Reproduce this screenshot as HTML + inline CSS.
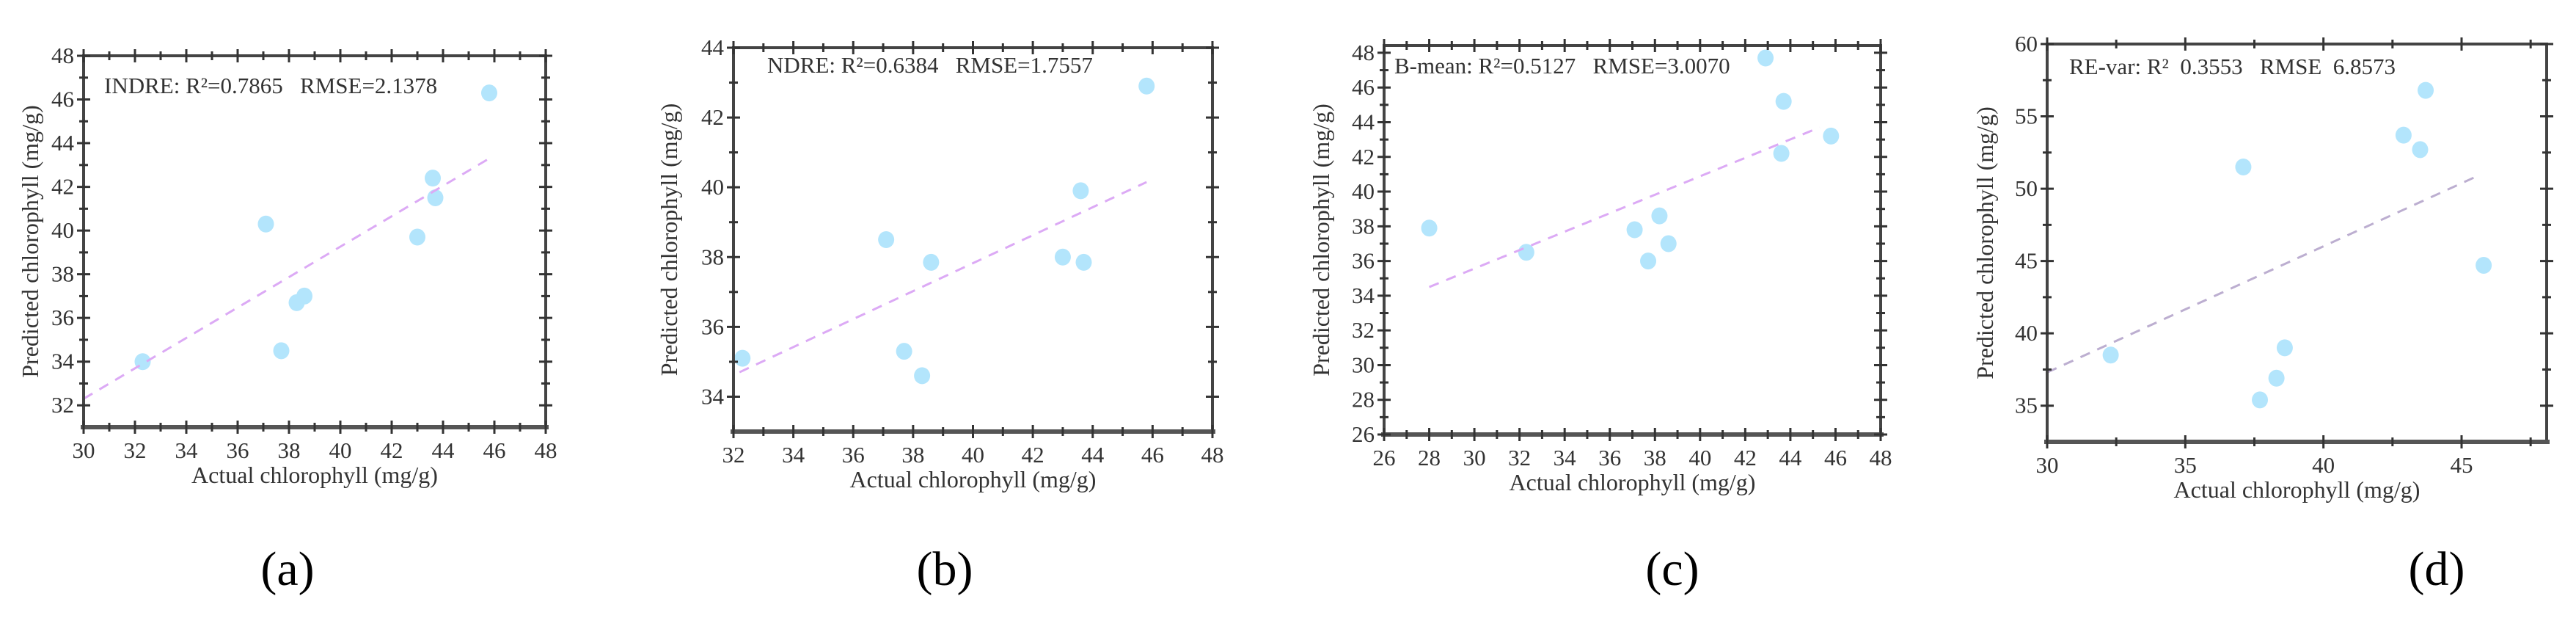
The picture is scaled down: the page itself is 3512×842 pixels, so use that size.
<!DOCTYPE html>
<html><head><meta charset="utf-8"><style>
html,body{margin:0;padding:0;background:#fff;}
svg text{font-family:"Liberation Serif",serif;fill:#333;white-space:pre;}
</style></head><body>
<svg id="fig" width="3512" height="837" viewBox="0 0 3512 837" xmlns="http://www.w3.org/2000/svg"></svg>
<script>
const aX=[32.3,37.1,37.7,38.3,38.6,43.0,43.6,43.7,45.8];
const aY=[34.0,40.3,34.5,36.7,37.0,39.7,42.4,41.5,46.3];
const aFit=[[30,32.3],[45.8,43.3]];
const bX=[32.3,37.1,37.7,38.3,38.6,43.0,43.6,43.7,45.8];
const bY=[35.1,38.5,35.3,34.6,37.85,38.0,39.9,37.85,42.9];
const bFit=[[32.2,34.7],[45.8,40.15]];
const cX=[28.0,32.3,37.1,37.7,38.2,38.6,42.9,43.6,43.7,45.8];
const cY=[37.9,36.5,37.8,36.0,38.6,37.0,47.7,42.2,45.2,43.2];
const cFit=[[28,34.5],[45.3,43.7]];
const dX=[32.3,37.1,37.7,38.3,38.6,42.9,43.5,43.7,45.8];
const dY=[38.5,51.5,35.4,36.9,39.0,53.7,52.7,56.8,44.7];
const dFit=[[30,37.3],[45.6,50.9]];
const aXTicks=[30,32,34,36,38,40,42,44,46,48], aYTicks=[32,34,36,38,40,42,44,46,48];
const bXTicks=[32,34,36,38,40,42,44,46,48], bYTicks=[34,36,38,40,42,44];
const cXTicks=[26,28,30,32,34,36,38,40,42,44,46,48], cYTicks=[26,28,30,32,34,36,38,40,42,44,46,48];
const dXTicks=[30,35,40,45], dYTicks=[35,40,45,50,55,60];
const aNote="INDRE: R²=0.7865   RMSE=2.1378";
const bNote="NDRE: R²=0.6384   RMSE=1.7557";
const cNote="B-mean: R²=0.5127   RMSE=3.0070";
const dNote="RE-var: R²  0.3553   RMSE  6.8573";

const NS="http://www.w3.org/2000/svg";
const svg=document.getElementById('fig');
const SERIF='"Liberation Serif", serif';
function mk(tag,attrs,parent){const e=document.createElementNS(NS,tag);for(const k in attrs)e.setAttribute(k,attrs[k]);if(tag==='text'){e.setAttribute('font-family',SERIF);e.style.fontFamily=SERIF;e.setAttribute('xml:space','preserve');}(parent||svg).appendChild(e);return e;}

function panel(o){
  const g=mk('g',{});
  
  
  const sx=v=>o.L+(v-o.x0)/(o.x1-o.x0)*(o.R-o.L);
  const sy=v=>o.B-(v-o.y0)/(o.y1-o.y0)*(o.B-o.T);
  for(let i=0;i<o.xs.length;i++){
    const c=mk('ellipse',{cx:sx(o.xs[i]),cy:sy(o.ys[i]),rx:11,ry:11.5,fill:'#b3e5fc'},g);
    
    
  }
  const ln=mk('line',{x1:sx(o.fit[0][0]),y1:sy(o.fit[0][1]),x2:sx(o.fit[1][0]),y2:sy(o.fit[1][1]),stroke:o.lc,'stroke-width':3,'stroke-dasharray':'14 11'},g);
  
  
  const fr=mk('rect',{x:o.L,y:o.T,width:o.R-o.L,height:o.B-o.T,fill:'none',stroke:'#444','stroke-width':4},g);
  
  
  mk('line',{x1:o.L-4,y1:o.B,x2:o.R+4,y2:o.B,stroke:'#555','stroke-width':6},g);
  const xs=o.xt, ys=o.yt;
  const xm=(xs[1]-xs[0])/2, ymn=(ys[1]-ys[0])/2;
  for(let v=xs[0];v<=o.x1+1e-6;v+=xm){
    const major=xs.some(t=>Math.abs(t-v)<1e-6);const h=major?9:6;
    const x=sx(v);
    mk('line',{x1:x,y1:o.B-h,x2:x,y2:o.B+h,stroke:'#333','stroke-width':3},g);
    mk('line',{x1:x,y1:o.T-h,x2:x,y2:o.T+h,stroke:'#333','stroke-width':3},g);
  }
  for(let v=ys[0];v<=o.y1+1e-6;v+=ymn){
    const major=ys.some(t=>Math.abs(t-v)<1e-6);const h=major?9:6;
    const y=sy(v);
    mk('line',{x1:o.L-h,y1:y,x2:o.L+h,y2:y,stroke:'#333','stroke-width':3},g);
    mk('line',{x1:o.R-h,y1:y,x2:o.R+h,y2:y,stroke:'#333','stroke-width':3},g);
  }
  xs.forEach(v=>{const t=mk('text',{x:sx(v),y:o.B+42,'font-size':31,'text-anchor':'middle'},g);t.textContent=v;
    });
  ys.forEach(v=>{const t=mk('text',{x:o.L-13,y:sy(v)+10,'font-size':31,'text-anchor':'end'},g);t.textContent=v;
    });
  const xt=mk('text',{x:(o.L+o.R)/2,y:o.B+76,'font-size':32,'text-anchor':'middle'},g);xt.textContent='Actual chlorophyll (mg/g)';
  
  const yc=(o.T+o.B)/2;
  const yt=mk('text',{x:o.yl,y:yc,'font-size':32,'text-anchor':'middle',transform:`rotate(-90 ${o.yl} ${yc})`},g);yt.textContent='Predicted chlorophyll (mg/g)';
  
  const nt=mk('text',{x:o.nx,y:o.ny,'font-size':31},g);nt.textContent=o.note;
  
  const pl=mk('text',{x:o.lab,y:797,'font-size':66,'text-anchor':'middle',fill:'#000'},g);pl.textContent='('+o.id+')';
  pl.style.fill='#000';
  
}
panel({id:'a',L:114,R:744,T:76,B:582,x0:30,x1:48,y0:31,y1:48,xs:aX,ys:aY,fit:aFit,xt:aXTicks,yt:aYTicks,note:aNote,nx:142,ny:127,yl:52,lab:392,lc:'#dcaaf5'});
panel({id:'b',L:1000,R:1653,T:65,B:588,x0:32,x1:48,y0:33,y1:44,xs:bX,ys:bY,fit:bFit,xt:bXTicks,yt:bYTicks,note:bNote,nx:1046,ny:99,yl:923,lab:1288,lc:'#dcaaf5'});
panel({id:'c',L:1887,R:2564,T:62,B:592,x0:26,x1:48,y0:26,y1:48.42,xs:cX,ys:cY,fit:cFit,xt:cXTicks,yt:cYTicks,note:cNote,nx:1901,ny:100,yl:1812,lab:2280,lc:'#dcaaf5'});
panel({id:'d',L:2791,R:3472,T:60,B:602,x0:30,x1:48.08,y0:32.5,y1:60,xs:dX,ys:dY,fit:dFit,xt:dXTicks,yt:dYTicks,note:dNote,nx:2821,ny:101,yl:2717,lab:3322,lc:'#bcaed0'});
</script>
</body></html>
